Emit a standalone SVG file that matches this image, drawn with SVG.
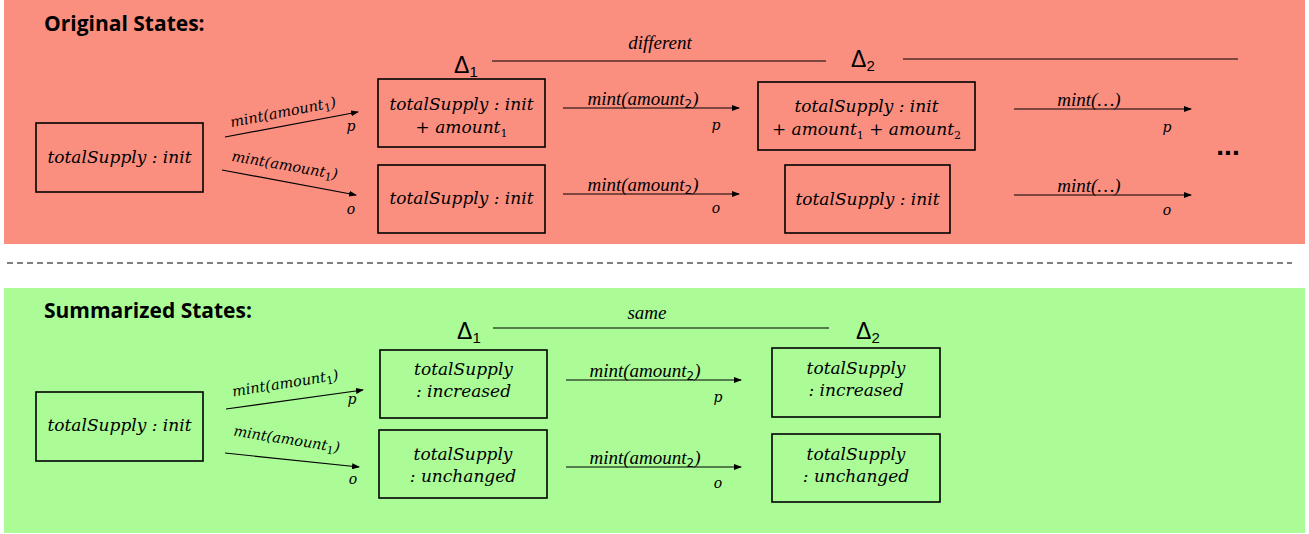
<svg xmlns="http://www.w3.org/2000/svg" width="1309" height="534" viewBox="0 0 1309 534">
<defs>
<marker id="ah" markerWidth="8" markerHeight="6" refX="7" refY="3" orient="auto" markerUnits="userSpaceOnUse"><path d="M0,0 L8,3 L0,6 z" fill="#000"/></marker>
<style>
.box{fill:none;stroke:#000;stroke-width:1.6}
.m{font-family:"DejaVu Serif","Liberation Serif",serif;font-style:italic;font-size:17px;fill:#000}
.lr{font-family:"DejaVu Serif","Liberation Serif",serif;font-style:italic;font-size:14.5px;fill:#000}
.lb{font-family:"Liberation Serif","DejaVu Serif",serif;font-style:italic;font-size:19px;fill:#000}
.po{font-family:"DejaVu Serif","Liberation Serif",serif;font-style:italic;font-size:14px;fill:#000}
.t{font-family:"Open Sans","Liberation Sans",sans-serif;font-weight:bold;font-size:21px;fill:#000}
.d{font-family:"Liberation Sans","DejaVu Sans",sans-serif;font-size:23px;fill:#000}
.ds{font-family:"Liberation Sans","DejaVu Sans",sans-serif;font-size:15px}
.sub{font-size:11px;font-style:normal}
.sb{font-family:"DejaVu Sans","Liberation Sans",sans-serif;font-size:12px;font-style:normal}
.ln{stroke:#000;stroke-width:1.2;fill:none}
.ar{stroke:#000;stroke-width:1.2;fill:none;marker-end:url(#ah)}
</style>
</defs>
<rect x="4" y="0" width="1301" height="244" fill="#FA8F80"/>
<rect x="4" y="288" width="1301" height="245" fill="#ABFB97"/>
<line x1="7" y1="263" x2="1292" y2="263" stroke="#000" stroke-width="1" stroke-dasharray="6,4"/>
<text class="t" x="44" y="31">Original States:</text>
<text class="t" x="44" y="318">Summarized States:</text>

<g id="o-init"><rect class="box" x="36" y="123" width="167" height="69"/><text class="m" x="119.5" y="163" text-anchor="middle">totalSupply : init</text></g>
<g id="o-p1"><rect class="box" x="378" y="79" width="167" height="68"/><text class="m" x="461.5" y="110" text-anchor="middle">totalSupply : init</text><text class="m" x="461.5" y="133" text-anchor="middle">+ amount<tspan class="sub" dy="4">1</tspan></text></g>
<g id="o-o1"><rect class="box" x="378" y="165" width="167" height="68"/><text class="m" x="461.5" y="204" text-anchor="middle">totalSupply : init</text></g>
<g id="o-p2"><rect class="box" x="758" y="82" width="217" height="68"/><text class="m" x="866.5" y="112" text-anchor="middle">totalSupply : init</text><text class="m" x="866.5" y="135" text-anchor="middle">+ amount<tspan class="sub" dy="4">1</tspan><tspan dy="-4"> + amount</tspan><tspan class="sub" dy="4">2</tspan></text></g>
<g id="o-o2"><rect class="box" x="785" y="165" width="165" height="68"/><text class="m" x="867.5" y="205" text-anchor="middle">totalSupply : init</text></g>
<text id="o-dots" x="1228" y="155" text-anchor="middle" font-family="Liberation Sans,sans-serif" font-weight="bold" font-size="28">...</text>

<g id="s-init"><rect class="box" x="36" y="392" width="167" height="69"/><text class="m" x="119.5" y="431" text-anchor="middle">totalSupply : init</text></g>
<g id="s-p1"><rect class="box" x="380" y="350" width="167" height="68"/><text class="m" x="463.5" y="375" text-anchor="middle">totalSupply</text><text class="m" x="463.5" y="397" text-anchor="middle">: increased</text></g>
<g id="s-o1"><rect class="box" x="379" y="430" width="168" height="68"/><text class="m" x="463" y="460" text-anchor="middle">totalSupply</text><text class="m" x="463" y="482" text-anchor="middle">: unchanged</text></g>
<g id="s-p2"><rect class="box" x="772" y="348" width="168" height="69"/><text class="m" x="856" y="374" text-anchor="middle">totalSupply</text><text class="m" x="856" y="396" text-anchor="middle">: increased</text></g>
<g id="s-o2"><rect class="box" x="772" y="434" width="168" height="68"/><text class="m" x="856" y="460" text-anchor="middle">totalSupply</text><text class="m" x="856" y="482" text-anchor="middle">: unchanged</text></g>

<g id="connectors">
<text class="d" x="454" y="73">Δ<tspan class="ds" dy="4">1</tspan></text>
<line class="ln" x1="492" y1="61" x2="826" y2="61"/>
<text class="lb" x="660" y="49" text-anchor="middle">different</text>
<text class="d" x="851" y="67">Δ<tspan class="ds" dy="4">2</tspan></text>
<line class="ln" x1="903" y1="59" x2="1238" y2="59"/>

<line class="ar" x1="225" y1="137" x2="358" y2="112"/>
<text class="lr" transform="translate(284,117) rotate(-11)" text-anchor="middle">mint(amount<tspan class="sub" dy="3">1</tspan><tspan dy="-3">)</tspan></text>
<text class="po" x="351" y="131" text-anchor="middle">p</text>
<line class="ar" x1="222" y1="170" x2="356" y2="195"/>
<text class="lr" transform="translate(284,170) rotate(10)" text-anchor="middle">mint(amount<tspan class="sub" dy="3">1</tspan><tspan dy="-3">)</tspan></text>
<text class="po" x="351" y="214" text-anchor="middle">o</text>

<line class="ar" x1="563" y1="108" x2="739" y2="108"/>
<text class="lb" x="643" y="105" text-anchor="middle">mint(amount<tspan class="sb" dy="3">2</tspan><tspan dy="-3">)</tspan></text>
<text class="po" x="716" y="130" text-anchor="middle">p</text>
<line class="ar" x1="563" y1="194" x2="739" y2="194"/>
<text class="lb" x="643" y="191" text-anchor="middle">mint(amount<tspan class="sb" dy="3">2</tspan><tspan dy="-3">)</tspan></text>
<text class="po" x="716" y="213" text-anchor="middle">o</text>

<line class="ar" x1="1014" y1="109" x2="1191" y2="109"/>
<text class="lb" x="1089" y="106" text-anchor="middle">mint(…)</text>
<text class="po" x="1167" y="132" text-anchor="middle">p</text>
<line class="ar" x1="1014" y1="195" x2="1191" y2="195"/>
<text class="lb" x="1089" y="192" text-anchor="middle">mint(…)</text>
<text class="po" x="1167" y="215" text-anchor="middle">o</text>

<text class="d" x="457" y="339">Δ<tspan class="ds" dy="4">1</tspan></text>
<line class="ln" x1="493" y1="328" x2="829" y2="328"/>
<text class="lb" x="647" y="319" text-anchor="middle">same</text>
<text class="d" x="856" y="339">Δ<tspan class="ds" dy="4">2</tspan></text>

<line class="ar" x1="226" y1="409" x2="363" y2="390"/>
<text class="lr" transform="translate(286,388) rotate(-9)" text-anchor="middle">mint(amount<tspan class="sub" dy="3">1</tspan><tspan dy="-3">)</tspan></text>
<text class="po" x="352" y="404" text-anchor="middle">p</text>
<line class="ar" x1="225" y1="453" x2="359" y2="467"/>
<text class="lr" transform="translate(286,444) rotate(9)" text-anchor="middle">mint(amount<tspan class="sub" dy="3">1</tspan><tspan dy="-3">)</tspan></text>
<text class="po" x="353" y="484" text-anchor="middle">o</text>

<line class="ar" x1="566" y1="380" x2="741" y2="380"/>
<text class="lb" x="645" y="377" text-anchor="middle">mint(amount<tspan class="sb" dy="3">2</tspan><tspan dy="-3">)</tspan></text>
<text class="po" x="718" y="402" text-anchor="middle">p</text>
<line class="ar" x1="566" y1="467" x2="741" y2="467"/>
<text class="lb" x="645" y="464" text-anchor="middle">mint(amount<tspan class="sb" dy="3">2</tspan><tspan dy="-3">)</tspan></text>
<text class="po" x="718" y="488" text-anchor="middle">o</text>
</g>
</svg>
